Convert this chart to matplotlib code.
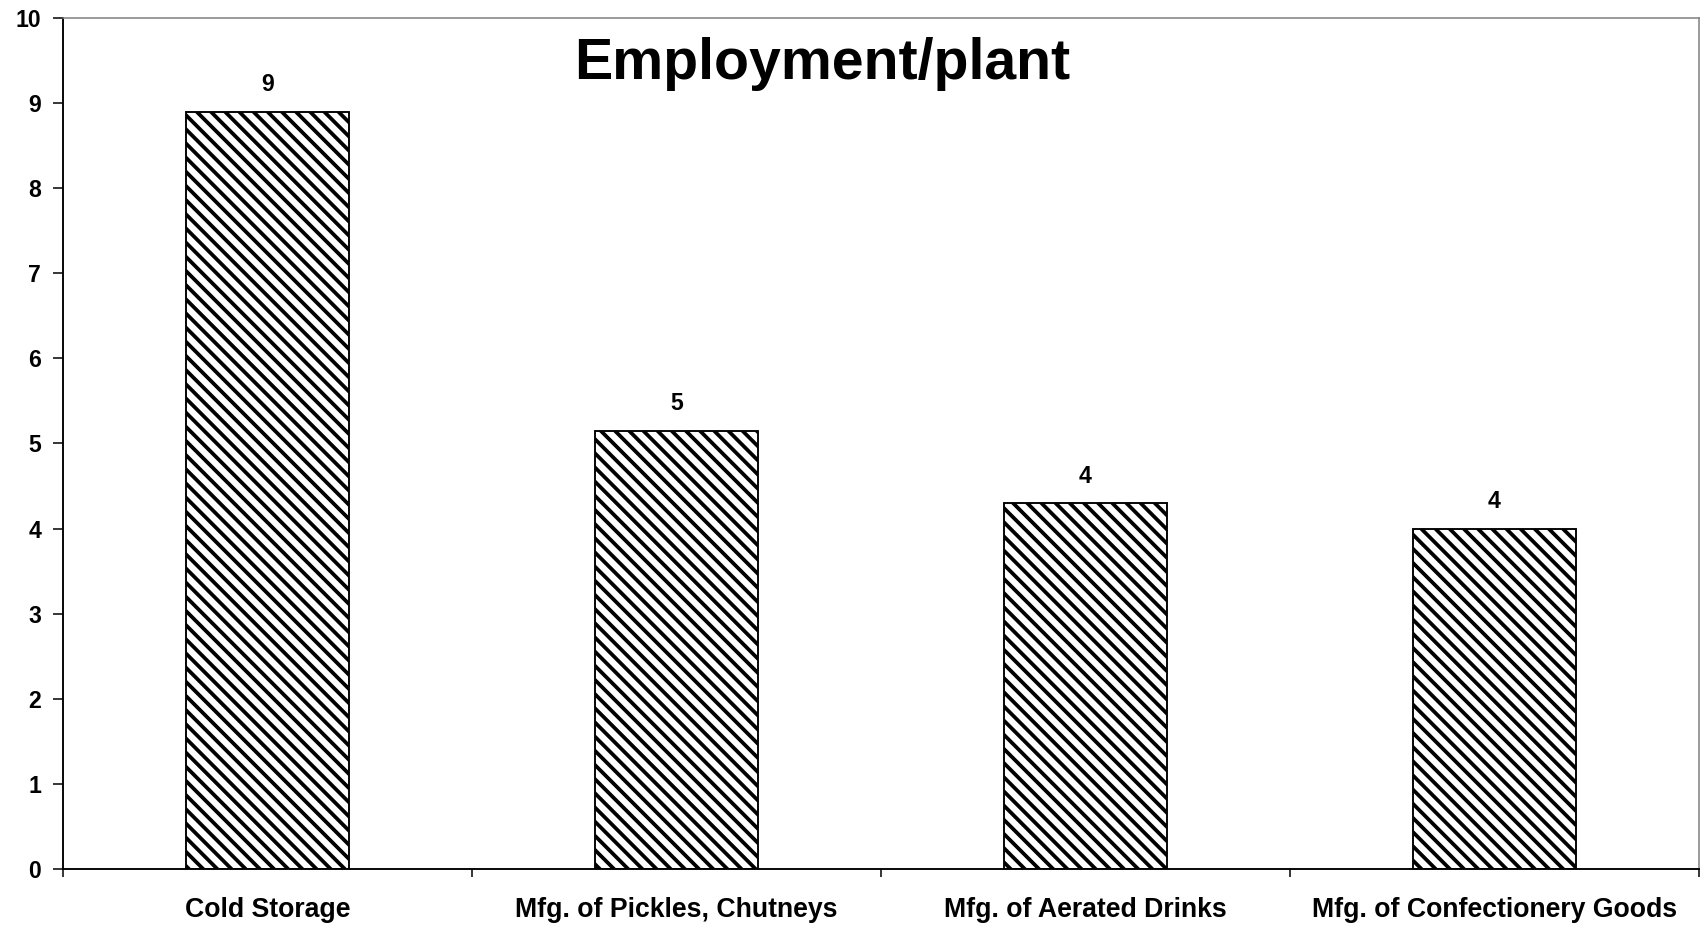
import numpy as np
import matplotlib
matplotlib.use("Agg")
from matplotlib import pyplot as plt

# Employment per plant by industry
categories = ["Cold Storage", "Mfg. of Pickles, Chutneys",
              "Mfg. of Aerated Drinks", "Mfg. of Confectionery Goods"]
employment = [8.9, 5.15, 4.3, 4.0]
y_ticks = list(range(0, 11))

plt.rcParams['font.family'] = ['Liberation Sans', 'DejaVu Sans']
plt.rcParams['font.weight'] = 'bold'
plt.rcParams['hatch.linewidth'] = 3.2
plt.rcParams['hatch.color'] = 'black'

DPI = 85
fig = plt.figure(figsize=(1703 / DPI, 925 / DPI), dpi=DPI, facecolor='white')
ax = fig.add_axes([63 / 1703, 1 - 869 / 925, (1699 - 63) / 1703, (869 - 18) / 925])

x = np.arange(len(categories))
bars = ax.bar(x, employment, width=0.4, color='white', edgecolor='black',
              linewidth=1.6, hatch='\\\\')

# Value labels above bars, rounded to whole numbers
ax.bar_label(bars, fmt='%.0f', padding=13, fontsize=19.5, fontweight='bold')

ax.set_ylim(0, 10)
ax.set_xlim(-0.5, len(categories) - 0.5)
ax.set_yticks(y_ticks)
ax.tick_params(axis='y', length=8.5, width=1.3, pad=10, labelsize=19.5)

# Ticks on category boundaries, labels at category centres
ax.set_xticks(np.arange(len(categories) + 1) - 0.5)
ax.set_xticklabels([])
ax.set_xticks(x, minor=True)
ax.set_xticklabels(categories, minor=True, fontsize=22.5, fontweight='bold')
ax.tick_params(axis='x', which='major', length=7, width=1.3, direction='out')
ax.tick_params(axis='x', which='minor', length=0, pad=24)

for side in ['left', 'bottom']:
    ax.spines[side].set_color('black')
    ax.spines[side].set_linewidth(1.6)
for side in ['top', 'right']:
    ax.spines[side].set_color('#808080')
    ax.spines[side].set_linewidth(1.3)

fig.text(822 / 1703, 1 - 79 / 925, "Employment/plant", ha='center', va='baseline',
         fontsize=48.5, fontweight='bold')

fig.savefig('out.png', dpi=DPI, facecolor='white')
